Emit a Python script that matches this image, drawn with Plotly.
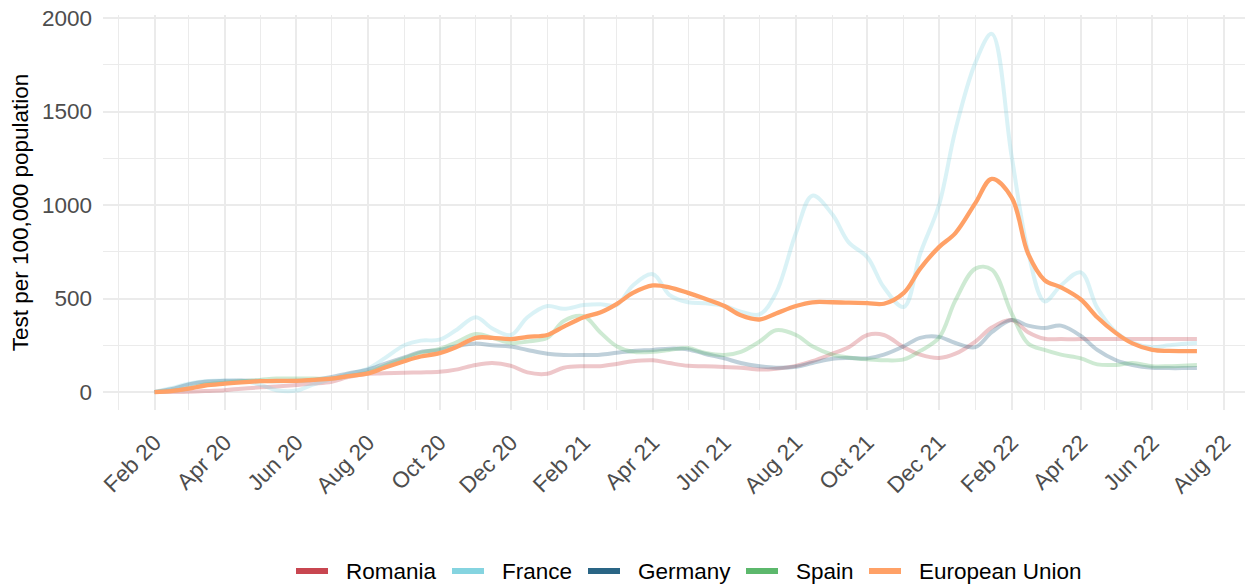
import datetime as dt
import plotly.graph_objects as go

# Semi-monthly sample dates (1st and 15th of each month) Feb 2020 - Jul 2022, plus last observation
dates = []
for y in (2020, 2021, 2022):
    for m in range(1, 13):
        for d in (1, 15):
            t = dt.date(y, m, d)
            if dt.date(2020, 2, 1) <= t <= dt.date(2022, 7, 1):
                dates.append(t.isoformat())
dates.append("2022-07-09")

european_union = [0, 5, 18, 35, 45, 52, 58, 60, 60, 65, 72, 85, 100, 130, 165, 190, 208, 240, 290, 290,
                  283, 295, 305, 350, 400, 425, 470, 530, 570, 560, 530, 500, 460, 410, 388, 420, 460, 480,
                  480, 478, 475, 472, 530, 660, 775, 850, 1010, 1140, 1040, 740, 599, 560, 495, 400, 315,
                  260, 225, 220, 219, 219]
france = [0, 20, 45, 58, 62, 60, 40, 10, 8, 40, 70, 95, 125, 180, 250, 275, 280, 330, 400, 340,
          305, 400, 460, 445, 465, 470, 465, 570, 630, 520, 480, 475, 460, 430, 415, 530, 850, 1050,
          950, 800, 720, 560, 455, 740, 1000, 1400, 1760, 1915, 1260, 750, 485, 570, 640, 450, 320,
          265, 240, 250, 260, 262]
spain = [0, 5, 20, 40, 50, 58, 65, 72, 73, 72, 72, 85, 105, 140, 180, 210, 230, 265, 310, 290,
         262, 270, 290, 380, 405, 320, 245, 215, 215, 225, 235, 210, 198, 215, 270, 330, 305, 245,
         200, 185, 175, 170, 175, 220, 290, 490, 660, 655, 420, 260, 225, 200, 180, 148, 145,
         155, 138, 138, 142, 144]
germany = [0, 15, 40, 55, 60, 62, 60, 58, 60, 65, 80, 100, 120, 150, 185, 215, 225, 245, 260, 250,
           243, 225, 205, 198, 198, 200, 210, 220, 225, 232, 228, 205, 180, 155, 138, 130, 135, 155,
           178, 182, 180, 200, 245, 290, 295, 262, 240, 320, 385, 355, 342, 355, 300, 225, 170,
           145, 130, 128, 128, 128]
romania = [0, 0, 2, 5, 10, 18, 25, 30, 38, 45, 55, 80, 98, 100, 103, 105, 108, 120, 145, 155,
           140, 105, 98, 130, 138, 138, 150, 165, 170, 155, 140, 138, 134, 130, 120, 125, 140, 165,
           205, 240, 305, 305, 240, 200, 182, 205, 270, 345, 385, 320, 285, 283, 283, 283, 283,
           283, 283, 283, 283, 283]

series_names = ["Romania", "France", "Germany", "Spain", "European Union"]
series_values = [romania, france, germany, spain, european_union]
series_rgb = [(200, 70, 80), (133, 212, 224), (42, 101, 133), (92, 184, 108), (255, 161, 103)]
series_alpha = [0.3, 0.3, 0.3, 0.3, 1.0]

# page body margin is removed in post_script, so page pixels == figure pixels
W, H = 1250, 585
L, T = 103, 15
plot_right, plot_bottom = 1245, 410
R, B = W - plot_right, H - plot_bottom
pw, ph = W - L - R, H - T - B


def px_x(p):  # page pixel -> paper coordinate
    return (p - L) / pw


def px_y(p):
    return (plot_bottom - p) / ph


fig = go.Figure()
for name, vals, (r, g, b), a in zip(series_names, series_values, series_rgb, series_alpha):
    fig.add_trace(go.Scatter(x=dates, y=vals, mode="lines", name=name, showlegend=False,
                             line=dict(color=f"rgba({r},{g},{b},{a})", width=4.3 if a == 1 else 4,
                                       shape="spline", smoothing=1)))

# legend (drawn below the plot, ggplot-style)
font = "Liberation Sans, Arial, sans-serif"
legend_swatch_x = [296, 452, 588, 746, 869]
legend_y = 571
for name, (r, g, b), sx in zip(series_names, series_rgb, legend_swatch_x):
    fig.add_shape(type="line", xref="paper", yref="paper", x0=px_x(sx), x1=px_x(sx + 32),
                  y0=px_y(legend_y), y1=px_y(legend_y), line=dict(color=f"rgb({r},{g},{b})", width=6))
    fig.add_annotation(text=name, xref="paper", yref="paper", x=px_x(sx + 48), y=px_y(legend_y),
                       xanchor="left", yanchor="middle", showarrow=False,
                       font=dict(family=font, size=22.5, color="black"))

fig.update_layout(
    width=W, height=H,
    margin=dict(l=L, r=R, t=T, b=B),
    plot_bgcolor="white", paper_bgcolor="white",
    font=dict(family=font, size=22.5, color="#4D4D4D"),
    showlegend=False,
    xaxis=dict(type="date", range=["2019-12-19", "2022-08-19"], automargin=False,
               tick0="2020-02-01", dtick="M2", tickformat="%b %y", tickangle=-45,
               showgrid=True, gridcolor="#EBEBEB", gridwidth=2, zeroline=False, showline=False,
               ticks="", ticklabelstandoff=14, ticklabeloverflow="allow",
               tickfont=dict(size=22.5, color="#4D4D4D"),
               minor=dict(dtick="M1", tick0="2020-01-01", showgrid=True, gridcolor="#EBEBEB", gridwidth=1)),
    yaxis=dict(range=[-96, 2016], tick0=0, dtick=500, automargin=False,
               showgrid=True, gridcolor="#EBEBEB", gridwidth=2,
               zeroline=False, showline=False, ticks="", ticklabelstandoff=10,
               ticklabeloverflow="allow",
               tickfont=dict(size=22.5, color="#4D4D4D"),
               title=dict(text="Test per 100,000 population", standoff=7,
                          font=dict(size=22.5, color="black")),
               minor=dict(dtick=250, showgrid=True, gridcolor="#EBEBEB", gridwidth=1)),
)
fig.write_html("out.html", config={"displayModeBar": False},
               post_script="document.body.style.margin='0';document.body.style.overflow='hidden';")
